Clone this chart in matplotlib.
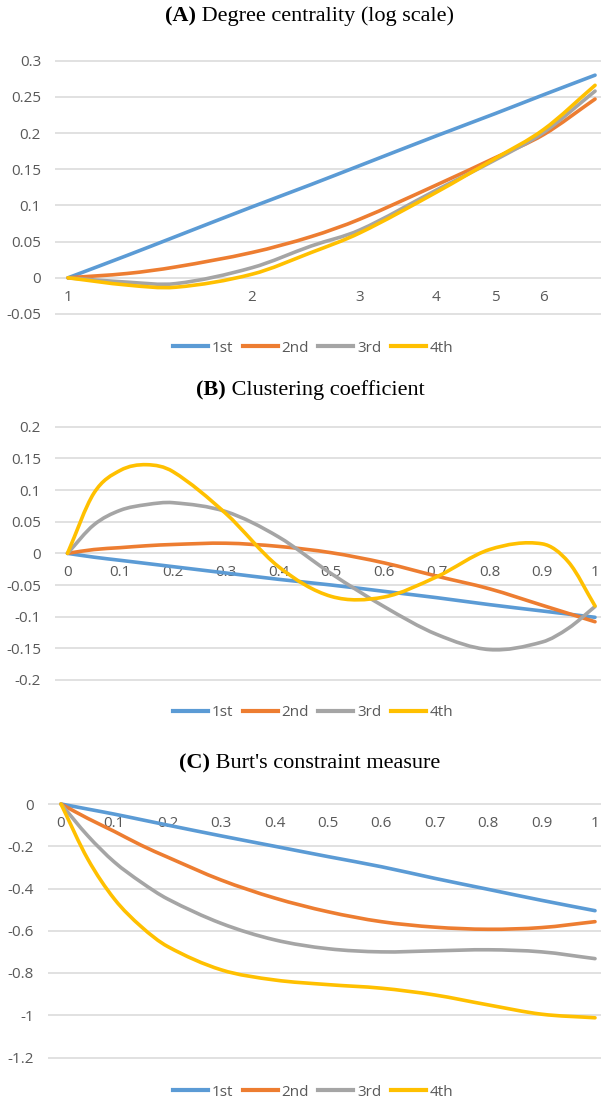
import numpy as np
import matplotlib
matplotlib.use("Agg")
import matplotlib.pyplot as plt
from matplotlib.path import Path
from matplotlib.patches import PathPatch
from matplotlib.lines import Line2D
from matplotlib.ticker import MultipleLocator, FuncFormatter, NullLocator

plt.rcParams["axes.unicode_minus"] = False

# (A) degree centrality, x on a log scale
deg = [1, 1.25, 1.5, 2, 2.5, 3, 4, 5, 6, 7.28]
a_1st = [0, 0.031, 0.057, 0.098, 0.129, 0.155, 0.196, 0.227, 0.253, 0.280]
a_2nd = [0, 0.006, 0.015, 0.035, 0.057, 0.081, 0.128, 0.166, 0.198, 0.247]
a_3rd = [0, -0.006, -0.008, 0.014, 0.044, 0.066, 0.121, 0.163, 0.201, 0.258]
a_4th = [0, -0.010, -0.013, 0.005, 0.035, 0.062, 0.118, 0.165, 0.205, 0.266]
deg_ticks = [1, 2, 3, 4, 5, 6]

# (B) clustering coefficient
clu = [0, 0.05, 0.1, 0.15, 0.2, 0.3, 0.4, 0.5, 0.6, 0.7, 0.8, 0.9, 0.95, 1]
b_1st = [0, -0.006, -0.011, -0.016, -0.021, -0.031, -0.041, -0.050, -0.060,
         -0.070, -0.081, -0.091, -0.096, -0.101]
b_2nd = [0, 0.006, 0.009, 0.012, 0.014, 0.016, 0.011, 0.001, -0.015,
         -0.036, -0.056, -0.082, -0.095, -0.108]
b_3rd = [0, 0.045, 0.068, 0.077, 0.080, 0.066, 0.026, -0.032, -0.084,
         -0.128, -0.152, -0.140, -0.118, -0.084]
b_4th = [0, 0.095, 0.131, 0.140, 0.129, 0.063, -0.021, -0.068, -0.069,
         -0.037, 0.006, 0.015, -0.014, -0.083]

# (C) Burt's constraint
con = [0, 0.05, 0.1, 0.15, 0.2, 0.3, 0.4, 0.5, 0.6, 0.7, 0.8, 0.9, 1]
c_1st = [0, -0.024, -0.048, -0.074, -0.100, -0.151, -0.200, -0.249, -0.297,
         -0.352, -0.404, -0.456, -0.505]
c_2nd = [0, -0.068, -0.130, -0.195, -0.252, -0.360, -0.445, -0.510, -0.557,
         -0.583, -0.593, -0.585, -0.557]
c_3rd = [0, -0.150, -0.275, -0.370, -0.450, -0.565, -0.643, -0.685, -0.700,
         -0.695, -0.690, -0.700, -0.732]
c_4th = [0, -0.260, -0.450, -0.580, -0.675, -0.785, -0.833, -0.855, -0.872,
         -0.904, -0.951, -0.995, -1.012]
unit_ticks = [0, 0.1, 0.2, 0.3, 0.4, 0.5, 0.6, 0.7, 0.8, 0.9, 1]

names = ["1st", "2nd", "3rd", "4th"]
colors = ["#5B9BD5", "#ED7D31", "#A5A5A5", "#FFC000"]

W, H = 601, 1101
LABEL = "#595959"
GRID = "#D9D9D9"
TICK_FONT = "Open Sans"
TICK_SIZE = 11
LW = 2.6

fig = plt.figure(figsize=(W / 100, H / 100), dpi=100)


def px_axes(x0, x1, y_top, y_bot, v_top, v_bot, pad=3):
    # axes box in pixels (top origin); v_top/v_bot are the values at y_top/y_bot
    per_px = (v_top - v_bot) / (y_bot - y_top)
    top = y_top - pad
    bot = y_bot + pad
    ax = fig.add_axes([x0 / W, 1 - bot / H, (x1 - x0) / W, (bot - top) / H])
    ax.set_ylim(v_bot - pad * per_px, v_top + pad * per_px)
    return ax


def smooth_line(ax, xs, ys, color, logx=False):
    # smoothed line: cubic Hermite through the points, written as Bezier curves
    x = np.log(xs) if logx else np.asarray(xs, float)
    y = np.asarray(ys, float)
    m = np.empty_like(y)
    m[0] = (y[1] - y[0]) / (x[1] - x[0])
    m[-1] = (y[-1] - y[-2]) / (x[-1] - x[-2])
    m[1:-1] = (y[2:] - y[:-2]) / (x[2:] - x[:-2])
    verts = [(x[0], y[0])]
    codes = [Path.MOVETO]
    for i in range(len(x) - 1):
        h = (x[i + 1] - x[i]) / 3
        verts += [(x[i] + h, y[i] + m[i] * h),
                  (x[i + 1] - h, y[i + 1] - m[i + 1] * h),
                  (x[i + 1], y[i + 1])]
        codes += [Path.CURVE4] * 3
    verts = np.array(verts)
    if logx:
        verts[:, 0] = np.exp(verts[:, 0])
    ax.add_patch(PathPatch(Path(verts, codes), fill=False, edgecolor=color,
                           lw=LW, capstyle="round", joinstyle="round"))


def fmt(v, pos):
    return "0" if abs(v) < 1e-9 else f"{v:g}"


def style(ax, step):
    for s in ax.spines.values():
        s.set_visible(False)
    ax.spines["bottom"].set_position(("data", 0))
    ax.yaxis.set_major_locator(MultipleLocator(step))
    ax.yaxis.set_major_formatter(FuncFormatter(fmt))
    ax.yaxis.grid(True, color=GRID, lw=1.1)
    ax.set_axisbelow(True)
    ax.tick_params(axis="both", length=0, colors=LABEL, labelsize=TICK_SIZE)
    ax.tick_params(axis="y", pad=10)
    ax.tick_params(axis="x", pad=8.5)
    for lab in ax.get_xticklabels() + ax.get_yticklabels():
        lab.set_fontfamily(TICK_FONT)


def legend_at(y):
    handles = [Line2D([], [], color=c, lw=3) for c in colors]
    fig.legend(handles, names, ncol=4, loc="center",
               bbox_to_anchor=(313 / W, 1 - y / H), frameon=False,
               handlelength=2.3, handletextpad=0.25, columnspacing=0.6,
               labelcolor=LABEL, prop={"family": TICK_FONT, "size": TICK_SIZE})


def title_at(y, tag, text, cx=310, size=16):
    r = fig.canvas.get_renderer()
    t1 = fig.text(0, 1 - y / H, tag, family="Liberation Serif",
                  weight="bold", size=size, va="center")
    t2 = fig.text(0, 1 - y / H, " " + text, family="Liberation Serif",
                  size=size, va="center")
    w1 = t1.get_window_extent(r).width
    w2 = t2.get_window_extent(r).width
    x0 = cx - (w1 + w2) / 2
    t1.set_x(x0 / W)
    t2.set_x((x0 + w1) / W)


# panel A
ax_a = px_axes(55, 601, 60.7, 314, 0.3, -0.05)
ax_a.set_xscale("log")
ax_a.set_xlim(np.exp((55 - 68) / 265.5), np.exp((601 - 68) / 265.5))
for ys, c in zip([a_1st, a_2nd, a_3rd, a_4th], colors):
    smooth_line(ax_a, deg, ys, c, logx=True)
ax_a.set_xticks(deg_ticks)
ax_a.set_xticklabels([str(t) for t in deg_ticks])
ax_a.xaxis.set_minor_locator(NullLocator())
style(ax_a, 0.05)

# panel B
ax_b = px_axes(55, 601, 426.7, 680, 0.2, -0.2)
ax_b.set_xlim((55 - 67.5) / 527.5, (601 - 67.5) / 527.5)
for ys, c in zip([b_1st, b_2nd, b_3rd, b_4th], colors):
    smooth_line(ax_b, clu, ys, c)
ax_b.set_xticks(unit_ticks)
ax_b.set_xticklabels([f"{t:g}" for t in unit_ticks])
style(ax_b, 0.05)

# panel C
ax_c = px_axes(48, 601, 804, 1057.5, 0, -1.2)
ax_c.set_xlim((48 - 61) / 534, (601 - 61) / 534)
for ys, c in zip([c_1st, c_2nd, c_3rd, c_4th], colors):
    smooth_line(ax_c, con, ys, c)
ax_c.set_xticks(unit_ticks)
ax_c.set_xticklabels([f"{t:g}" for t in unit_ticks])
style(ax_c, 0.2)

title_at(16, "(A)", "Degree centrality (log scale)")
title_at(390, "(B)", "Clustering coefficient")
title_at(763, "(C)", "Burt's constraint measure")
legend_at(348)
legend_at(713)
legend_at(1092)

fig.savefig("out.png", dpi=100, facecolor="white")
